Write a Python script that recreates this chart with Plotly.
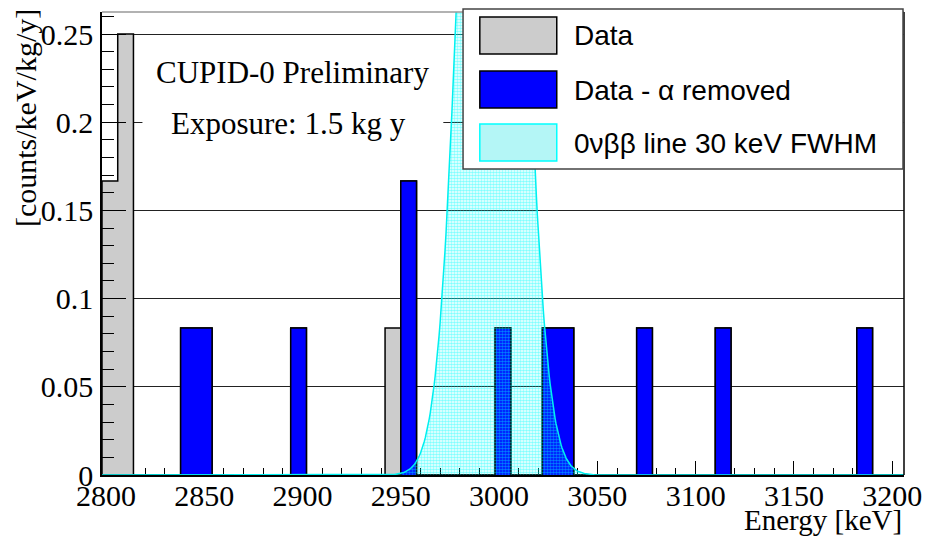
import numpy as np
import plotly.graph_objects as go

# ---------------- data ----------------
bin_start = 2798          # keV, lower edge of first bin
bin_width = 8             # keV
n_bins = 51

# "Data" histogram: lower bin edges (keV) and rates (counts/keV/kg/y)
data_bin_low = [2798, 2806, 2838, 2846, 2894, 2942, 2950, 2998, 3022, 3030, 3070, 3110, 3182]
data_rate = [0.1667, 0.25, 0.0833, 0.0833, 0.0833, 0.0833, 0.1667, 0.0833, 0.0833, 0.0833, 0.0833, 0.0833, 0.0833]

# "Data - alpha removed" histogram
alpha_bin_low = [2838, 2846, 2894, 2950, 2998, 3022, 3030, 3070, 3110, 3182]
alpha_rate = [0.0833, 0.0833, 0.0833, 0.1667, 0.0833, 0.0833, 0.0833, 0.0833, 0.0833, 0.0833]

# 0vbb signal line
line_center = 2996.5      # keV
line_fwhm = 30.0          # keV
line_peak = 0.75          # counts/keV/kg/y

x_ticks = [2800, 2850, 2900, 2950, 3000, 3050, 3100, 3150, 3200]
x_tick_labels = ["2800", "2850", "2900", "2950", "3000", "3050", "3100", "3150", "3200"]
y_ticks = [0, 0.05, 0.1, 0.15, 0.2, 0.25]
y_tick_labels = ["0", "0.05", "0.1", "0.15", "0.2", "0.25"]

legend_labels = ["Data", "Data - \u03b1 removed", "0\u03bd\u03b2\u03b2 line 30 keV FWHM"]

# ---------------- geometry helpers ----------------
W, H = 934, 539
L, R, T, B = 102, 915, 12, 475   # plot area in pixels


def px(x):
    return (x - L) / (R - L)


def py(y):
    return (B - y) / (B - T)


def step_xy(lows, rates):
    vals = [0.0] * n_bins
    for lo, r in zip(lows, rates):
        vals[int(round((lo - bin_start) / bin_width))] = r
    edges = [bin_start + i * bin_width for i in range(n_bins + 1)]
    xs = [edges[0]] + edges
    ys = [0.0] + vals + [0.0]
    return xs, ys


SERIF = "Liberation Serif"
SANS = "Liberation Sans"

fig = go.Figure()

gx, gy = step_xy(data_bin_low, data_rate)
fig.add_trace(go.Scatter(x=gx, y=gy, mode="lines", line=dict(shape="hv", color="black", width=1.5),
                         fill="tozeroy", fillcolor="#cccccc", name=legend_labels[0], showlegend=False))

bx, by = step_xy(alpha_bin_low, alpha_rate)
fig.add_trace(go.Scatter(x=bx, y=by, mode="lines", line=dict(shape="hv", color="black", width=1.5),
                         fill="tozeroy", fillcolor="#0000ff", name=legend_labels[1], showlegend=False))

sigma = line_fwhm / (2 * np.sqrt(2 * np.log(2)))
ex = np.arange(bin_start, bin_start + n_bins * bin_width + 0.01, 0.5)
ey = line_peak * np.exp(-0.5 * ((ex - line_center) / sigma) ** 2)
fig.add_trace(go.Scatter(x=ex, y=ey, mode="lines", line=dict(color="#00f0f0", width=1.5),
                         fill="tozeroy", fillcolor="rgba(0,0,0,0)",
                         fillpattern=dict(shape=".", fgcolor="#00ffff", bgcolor="rgba(0,0,0,0)",
                                          size=3, solidity=0.6),
                         name=legend_labels[2], showlegend=False))

shapes = []
# frame: top (gray) and right (black)
shapes.append(dict(type="line", xref="paper", yref="paper", x0=0, x1=1, y0=1, y1=1,
                   line=dict(color="#999999", width=1.5), layer="above"))
shapes.append(dict(type="line", xref="paper", yref="paper", x0=1, x1=1, y0=0, y1=1,
                   line=dict(color="black", width=1.5), layer="above"))
# white text pave
shapes.append(dict(type="rect", xref="paper", yref="paper", x0=px(143), x1=px(448), y0=py(160), y1=py(42),
                   fillcolor="white", line=dict(width=0), layer="above"))
# legend box
shapes.append(dict(type="rect", xref="paper", yref="paper", x0=px(468), x1=px(914), y0=py(169), y1=py(9),
                   fillcolor="white", line=dict(color="#444444", width=1.5), layer="above"))
# legend swatches
sw_fill = ["#cccccc", "#0000ff", "#b4f6f6"]
sw_line = ["black", "black", "#00ffff"]
sw_top = [17, 71, 124]
for i in range(3):
    shapes.append(dict(type="rect", xref="paper", yref="paper", x0=px(485), x1=px(563),
                       y0=py(sw_top[i] + 37), y1=py(sw_top[i]),
                       fillcolor=sw_fill[i], line=dict(color=sw_line[i], width=1.5), layer="above"))

annotations = []
for i in range(3):
    annotations.append(dict(xref="paper", yref="paper", x=px(578), y=py(sw_top[i] + 19),
                            text=legend_labels[i], showarrow=False, xanchor="left", yanchor="middle",
                            font=dict(family=SANS, size=28, color="black")))
annotations.append(dict(xref="paper", yref="paper", x=px(295), y=py(72), text="CUPID-0 Preliminary",
                        showarrow=False, xanchor="center", yanchor="middle",
                        font=dict(family=SERIF, size=31, color="black")))
annotations.append(dict(xref="paper", yref="paper", x=px(291), y=py(124), text="Exposure: 1.5 kg y",
                        showarrow=False, xanchor="center", yanchor="middle",
                        font=dict(family=SERIF, size=31, color="black")))
annotations.append(dict(xref="paper", yref="paper", x=px(24), y=py(118), text="[counts/keV/kg/y]",
                        showarrow=False, xanchor="center", yanchor="middle", textangle=-90,
                        font=dict(family=SERIF, size=30, color="black")))
annotations.append(dict(xref="paper", yref="paper", x=1.0, y=py(520), text="Energy [keV]",
                        showarrow=False, xanchor="right", yanchor="middle",
                        font=dict(family=SERIF, size=29, color="black")))

fig.update_layout(
    width=W, height=H,
    margin=dict(l=L, r=W - R, t=T, b=H - B),
    paper_bgcolor="white", plot_bgcolor="white",
    font=dict(family=SERIF, size=30, color="black"),
    showlegend=False,
    shapes=shapes, annotations=annotations,
    xaxis=dict(range=[bin_start, bin_start + n_bins * bin_width], tickmode="array",
               tickvals=x_ticks, ticktext=x_tick_labels,
               ticks="inside", ticklen=14, tickwidth=1, tickcolor="black",
               minor=dict(ticks="inside", ticklen=7, tick0=2800, dtick=10, tickcolor="black", tickwidth=1),
               showgrid=False, zeroline=False, showline=True, linecolor="black", linewidth=1.5,
               layer="below traces", ticklabelstandoff=-7,
               tickfont=dict(family=SERIF, size=30, color="black")),
    yaxis=dict(range=[0, 0.2625], tickmode="array", tickvals=y_ticks, ticktext=y_tick_labels,
               ticks="inside", ticklen=24, tickwidth=1, tickcolor="black",
               minor=dict(ticks="inside", ticklen=12, tick0=0, dtick=0.01, tickcolor="black", tickwidth=1),
               showgrid=True, gridcolor="#222222", gridwidth=1, zeroline=False,
               showline=True, linecolor="black", linewidth=1.5, ticklabelstandoff=1,
               tickfont=dict(family=SERIF, size=30, color="black")),
)

fig.write_html("out.html")
